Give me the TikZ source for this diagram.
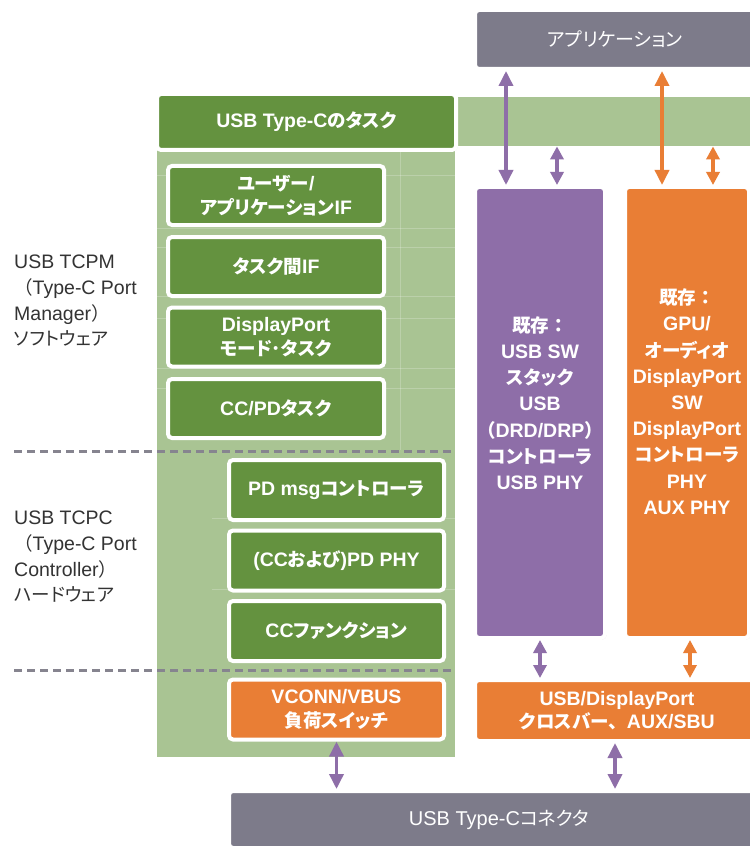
\documentclass[tikz,border=0pt]{standalone}
\usepackage{fontspec}
\setmainfont{Liberation Sans}
\newfontfamily\jpfont[Scale=0.95,RawFeature=+palt]{Noto Sans CJK JP}
\newfontfamily\jpfull[Scale=0.95]{Noto Sans CJK JP}
\newcommand\jp[1]{{\jpfont #1}}
\newcommand\jf[1]{{\jpfull #1}}
\usetikzlibrary{arrows.meta,shadows}
\definecolor{dgreen}{HTML}{64923F}
\definecolor{lgreen}{HTML}{A9C493}
\definecolor{purpleC}{HTML}{8E6EA8}
\definecolor{orangeC}{HTML}{E97E35}
\definecolor{grayC}{HTML}{7D7B8A}
\definecolor{dashC}{HTML}{86848F}
\definecolor{labelC}{HTML}{333333}
\newcommand\boxfont{\fontsize{19.5}{23.5}\selectfont\bfseries}
\newcommand\tallfont{\fontsize{19.5}{26.2}\selectfont\bfseries}
\newcommand\sidefont{\fontsize{19.5}{25.7}\selectfont}
\newcommand\grayfont{\fontsize{20}{23.5}\selectfont}
\begin{document}
\begin{tikzpicture}[x=1pt,y=-1pt,
  box/.style={rectangle, rounded corners=4pt, draw=white, line width=4pt,
    text=white, align=center, inner sep=0pt, font=\boxfont,
    drop shadow={opacity=0.2, shadow xshift=1.5pt, shadow yshift=-1.5pt}},
  gbox/.style={box, fill=dgreen},
  obox/.style={box, fill=orangeC},
  pbox/.style={box, fill=purpleC},
  graybox/.style={box, fill=grayC, font=\grayfont},
  side/.style={anchor=north west, align=left, inner sep=0pt, text=labelC, font=\sidefont},
  dashline/.style={draw=dashC, line width=3pt, dash pattern=on 8pt off 5pt},
  faint/.style={draw=white, opacity=0.22, line width=0.7pt},
  parr/.style={draw=purpleC, line width=3.5pt, {Triangle[width=14pt,length=15pt]}-{Triangle[width=14pt,length=15pt]}},
  oarr/.style={draw=orangeC, line width=3.5pt, {Triangle[width=14pt,length=15pt]}-{Triangle[width=14pt,length=15pt]}},
  sparr/.style={draw=purpleC, line width=3.5pt, {Triangle[width=13pt,length=13pt]}-{Triangle[width=13pt,length=13pt]}},
  soarr/.style={draw=orangeC, line width=3.5pt, {Triangle[width=13pt,length=13pt]}-{Triangle[width=13pt,length=13pt]}},
]
\useasboundingbox (0,0) rectangle (749,850);
\fill[white] (0,0) rectangle (749,850);

% background panels
\node[fill=lgreen, anchor=north west, inner sep=0pt, minimum width=298pt, minimum height=660pt] (panel) at (157,97) {};
\node[fill=lgreen, anchor=north west, inner sep=0pt, minimum width=320pt, minimum height=49pt] (band) at (455,97) {};

% faint grid lines inside the panel
\draw[faint] (400,152) -- (400,450);
\foreach \yy in {175,228,247,296,318,368,388} \draw[faint] (157,\yy) -- (455,\yy);
\foreach \yy in {518,589} \draw[faint] (212,\yy) -- (455,\yy);

% dashed separators
\draw[dashline] (14,451) -- (455,451);
\draw[dashline] (14,670) -- (455,670);

% side labels
\node[side] (tcpm) at (14,255) {USB TCPM\\\jf{（}Type-C Port\\Manager\jf{）}\\\jp{ソフトウェア}};
\node[side] (tcpc) at (14,511) {USB TCPC\\\jf{（}Type-C Port\\Controller\jf{）}\\\jp{ハードウェア}};

% top application
\node[graybox, minimum width=280pt, minimum height=59pt] (app) at (615,39.5) {\jp{アプリケーション}};

% task column
\node[gbox, minimum width=299pt, minimum height=56pt] (task) at (306.5,122) {USB Type-C\jp{のタスク}};
\node[gbox, minimum width=216pt, minimum height=59pt] (uif) at (276,195.5) {\jp{ユーザー}/\\\jp{アプリケーション}IF};
\node[gbox, minimum width=216pt, minimum height=59pt] (tif) at (276,266.5) {\jp{タスク間}IF};
\node[gbox, minimum width=216pt, minimum height=59pt] (dpt) at (276,337) {DisplayPort\\\jp{モード･タスク}};
\node[gbox, minimum width=216pt, minimum height=59pt] (ccpd) at (276,408.5) {CC/PD\jp{タスク}};

\node[gbox, minimum width=215pt, minimum height=60pt] (pdmsg) at (336.5,490) {PD msg\jp{コントローラ}};
\node[gbox, minimum width=215pt, minimum height=60pt] (pdphy) at (336.5,560.5) {(CC\jp{および})PD PHY};
\node[gbox, minimum width=215pt, minimum height=60pt] (ccf) at (336.5,631) {CC\jp{ファンクション}};
\node[obox, minimum width=215pt, minimum height=60pt] (vconn) at (336.5,709.5) {VCONN/VBUS\\\jp{負荷スイッチ}};

% right columns
\node[pbox, minimum width=130pt, minimum height=451pt, font=\tallfont, text depth=19pt] (pu) at (540,412.5)
  {\jf{既存：}\\USB SW\\\jp{スタック}\\USB\\\jf{（}DRD/DRP\jf{）}\\\jp{コントローラ}\\USB PHY};
\node[obox, minimum width=124pt, minimum height=451pt, font=\tallfont, text depth=22pt] (or) at (687,412.5)
  {\jf{既存：}\\GPU/\\\jp{オーディオ}\\DisplayPort\\SW\\DisplayPort\\\jp{コントローラ}\\PHY\\AUX PHY};

\node[obox, minimum width=284pt, minimum height=61pt] (usbdp) at (617,710.5) {USB/DisplayPort\\\jp{クロスバー}\jf{、}AUX/SBU};

\node[graybox, minimum width=540pt, minimum height=57pt] (conn) at (499,819.5) {USB Type-C\jp{コネクタ}};

% connectors
\draw[parr] (506,0 |- app.south) -- (506,0 |- pu.north);
\draw[oarr] (662,0 |- app.south) -- (662,0 |- or.north);
\draw[sparr] (557,0 |- band.south) -- (557,0 |- pu.north);
\draw[soarr] (713,0 |- band.south) -- (713,0 |- or.north);
\draw[sparr] (540,0 |- pu.south) -- (540,0 |- usbdp.north);
\draw[soarr] (690,0 |- or.south) -- (690,0 |- usbdp.north);
\draw[parr] (336.5,0 |- vconn.south) -- (336.5,0 |- conn.north);
\draw[parr] (615,0 |- usbdp.south) -- (615,0 |- conn.north);
\end{tikzpicture}
\end{document}
